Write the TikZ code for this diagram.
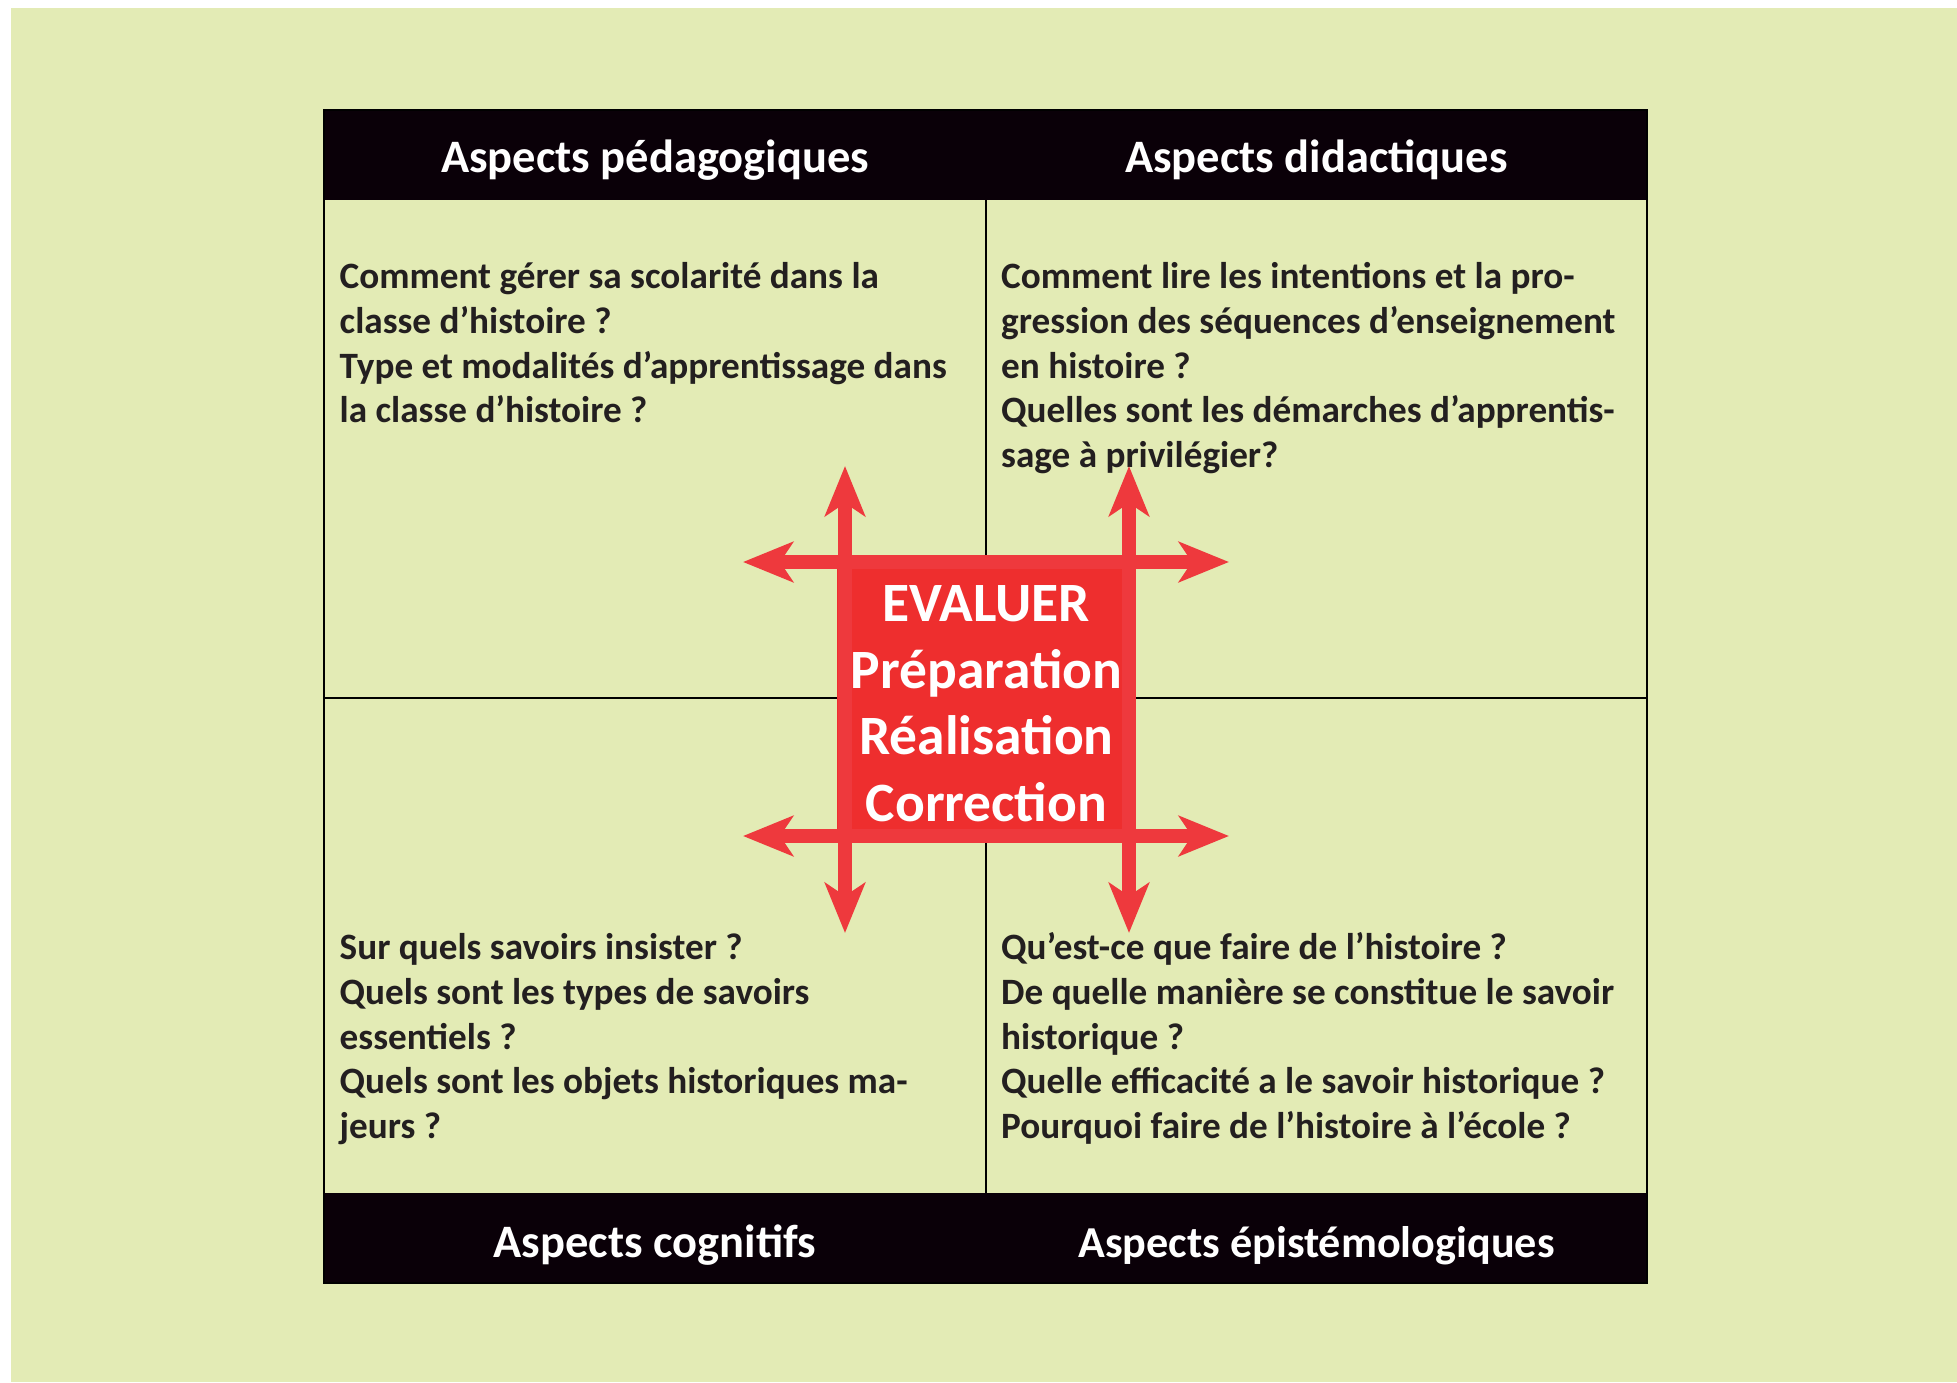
\documentclass[tikz,border=0pt]{standalone}
\usepackage{fontspec}
\setmainfont{Carlito}
\usetikzlibrary{arrows.meta}
\definecolor{bgc}{HTML}{E3EBB5}
\definecolor{hdc}{HTML}{0A0008}
\definecolor{txc}{HTML}{231F20}
\definecolor{boxc}{HTML}{EE2E2E}
\definecolor{arrc}{HTML}{EE393D}
\tikzset{
  qline/.style={anchor=base west, inner sep=0pt, text=txc, font=\fontsize{37.2}{45}\selectfont\bfseries},
  headtxt/.style={anchor=base, inner sep=0pt, text=white, font=\fontsize{46.5}{56}\selectfont\bfseries},
  evtxt/.style={anchor=base, inner sep=0pt, text=white, font=\fontsize{55.5}{66}\selectfont\bfseries},
  gridline/.style={draw=black, line width=2.5pt},
  redarrow/.style={draw=arrc, line width=14pt, {Stealth[length=50pt,width=40pt,inset=13pt]}-{Stealth[length=50pt,width=40pt,inset=13pt]}}
}
\begin{document}
\begin{tikzpicture}[x=1pt,y=-1pt]
\useasboundingbox (0,0) rectangle (1957,1382);
\fill[white] (0,0) rectangle (1957,1382);
\fill[bgc] (11,8) rectangle (1957,1382);
% header / footer bars
\fill[hdc] (324,110) rectangle (1647,200);
\fill[hdc] (324,1193) rectangle (1647,1283);
% grid
\draw[gridline] (324,110) rectangle (1647,1283);
\draw[gridline] (986,200) -- (986,1193);
\draw[gridline] (324,698) -- (1647,698);
% headers
\node[headtxt] (h1) at (655,172) {Aspects pédagogiques};
\node[headtxt] (h2) at (1316.5,172) {Aspects didactiques};
\node[headtxt] (h3) at (655,1257) {Aspects cognitifs};
\node[headtxt, font=\fontsize{44.2}{54}\selectfont\bfseries] (h4) at (1316.5,1257) {Aspects épistémologiques};
% top-left
\node[qline] (tl1) at (339.5,288.5) {Comment gérer sa scolarité dans la};
\node[qline] (tl2) at (339.5,333.3) {classe d’histoire ?};
\node[qline] (tl3) at (339.5,378.1) {Type et modalités d’apprentissage dans};
\node[qline] (tl4) at (339.5,422.9) {la classe d’histoire ?};
% top-right
\node[qline] (tr1) at (1001,288.5) {Comment lire les intentions et la pro-};
\node[qline] (tr2) at (1001,333.3) {gression des séquences d’enseignement};
\node[qline] (tr3) at (1001,378.1) {en histoire ?};
\node[qline] (tr4) at (1001,422.9) {Quelles sont les démarches d’apprentis-};
\node[qline] (tr5) at (1001,467.7) {sage à privilégier?};
% bottom-left
\node[qline] (bl1) at (339.5,959.5) {Sur quels savoirs insister ?};
\node[qline] (bl2) at (339.5,1004.3) {Quels sont les types de savoirs};
\node[qline] (bl3) at (339.5,1049.1) {essentiels ?};
\node[qline] (bl4) at (339.5,1093.9) {Quels sont les objets historiques ma-};
\node[qline] (bl5) at (339.5,1138.7) {jeurs ?};
% bottom-right
\node[qline] (br1) at (1001,959.5) {Qu’est-ce que faire de l’histoire ?};
\node[qline] (br2) at (1001,1004.3) {De quelle manière se constitue le savoir};
\node[qline] (br3) at (1001,1049.1) {historique ?};
\node[qline] (br4) at (1001,1093.9) {Quelle efficacité a le savoir historique ?};
\node[qline] (br5) at (1001,1138.7) {Pourquoi faire de l’histoire à l’école ?};
% central box
\fill[boxc] (837,555) rectangle (1136,842);
\coordinate (hl1) at (743,562);  \coordinate (hr1) at (1229,562);
\coordinate (hl2) at (743,836);  \coordinate (hr2) at (1229,836);
\coordinate (vt1) at (845,466);  \coordinate (vb1) at (845,933);
\coordinate (vt2) at (1129,466); \coordinate (vb2) at (1129,933);
\draw[redarrow] (hl1) -- (hr1);
\draw[redarrow] (hl2) -- (hr2);
\draw[redarrow] (vt1) -- (vb1);
\draw[redarrow] (vt2) -- (vb2);
\node[evtxt] (e1) at (986.5,621) {EVALUER};
\node[evtxt] (e2) at (986.5,688) {Préparation};
\node[evtxt] (e3) at (986.5,754) {Réalisation};
\node[evtxt] (e4) at (986.5,821) {Correction};
\end{tikzpicture}
\end{document}
